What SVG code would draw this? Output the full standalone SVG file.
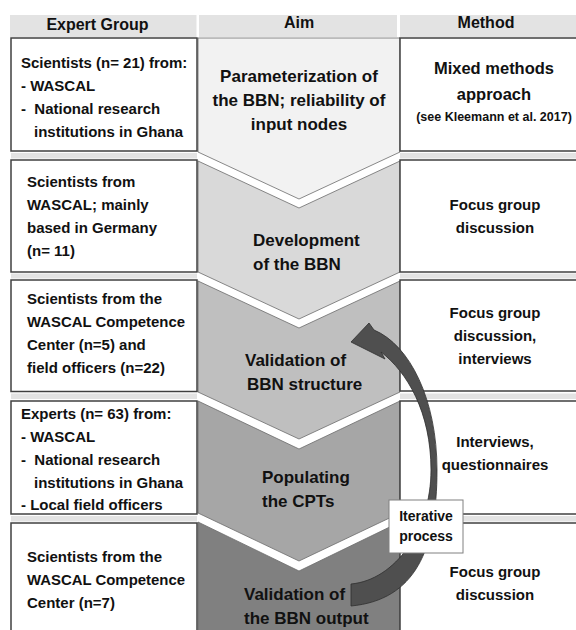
<svg xmlns="http://www.w3.org/2000/svg" width="576" height="630" viewBox="0 0 576 630">
<style>
text{font-family:"Liberation Sans",Arial,Helvetica,sans-serif;font-weight:bold;fill:#111}
.hdr{fill:#e3e3e3}
.hd{font-size:16px;text-anchor:middle}
.box{fill:#fff;stroke:#404040;stroke-width:1.5}
.band{fill:#e3e3e3}
.chev{stroke:#6b6b6b;stroke-width:0.8}
.l{font-size:15px}
.m{font-size:17px}
.mc{font-size:17px;text-anchor:middle}
.r{font-size:15px;text-anchor:middle}
.r1{font-size:16.5px;text-anchor:middle}
.lab{fill:#fff;stroke:#808080;stroke-width:1}
.lt{font-size:14px;text-anchor:middle}
.arrow{fill:#4f4f4f;stroke:#2f2f2f;stroke-width:0.8}
</style>
<rect width="576" height="630" fill="#fff"/>

<g id="header">
  <rect class="hdr" x="10" y="15" width="186.5" height="22"/>
  <rect class="hdr" x="199" y="15" width="198" height="22"/>
  <rect class="hdr" x="400" y="15" width="176" height="22"/>
  <text class="hd" x="97.5" y="29.5">Expert Group</text>
  <text class="hd" x="299" y="28">Aim</text>
  <text class="hd" x="486" y="28">Method</text>
</g>

<g id="bands">
  <rect class="band" x="11" y="153" width="186" height="5.5"/>
  <rect class="band" x="400" y="153" width="176" height="5.5"/>
  <rect class="band" x="11" y="273.5" width="186" height="5"/>
  <rect class="band" x="400" y="273.5" width="176" height="5"/>
  <rect class="band" x="11" y="393.5" width="186" height="5.5"/>
  <rect class="band" x="400" y="393.5" width="176" height="5.5"/>
  <rect class="band" x="11" y="516" width="186" height="5.5"/>
  <rect class="band" x="400" y="516" width="176" height="5.5"/>
</g>

<g id="aim1">
  <polygon class="chev" fill="#f2f2f2" points="198,38 400,38 400,152 299,199 198,152"/>
  <text class="mc" x="299" y="81.5">Parameterization of</text>
  <text class="mc" x="299" y="105.5">the BBN; reliability of</text>
  <text class="mc" x="299" y="129.5">input nodes</text>
</g>
<g id="aim2">
  <polygon class="chev" fill="#d9d9d9" points="198,161 299,208 400,161 400,272 299,319 198,272"/>
  <text class="m" x="253" y="245.5">Development</text>
  <text class="m" x="253" y="269.5">of the BBN</text>
</g>
<g id="aim3">
  <polygon class="chev" fill="#bfbfbf" points="198,281 299,328 400,281 400,392 299,439 198,392"/>
  <text class="m" x="245" y="366">Validation of</text>
  <text class="m" x="247" y="390">BBN structure</text>
</g>
<g id="aim4">
  <polygon class="chev" fill="#a6a6a6" points="198,401 299,449 400,401 400,513 299,561 198,513"/>
  <text class="m" x="262" y="482.5">Populating</text>
  <text class="m" x="262" y="506.5">the CPTs</text>
</g>
<g id="aim5">
  <polygon class="chev" fill="#808080" points="198,522 299,571 400,522 400,640 198,640"/>
  <text class="m" x="244" y="600">Validation of</text>
  <text class="m" x="244" y="624">the BBN output</text>
</g>

<g id="group1">
  <rect class="box" x="11" y="38" width="186" height="113"/>
  <text class="l" x="21" y="67.5">Scientists (n= 21) from:</text>
  <text class="l" x="21" y="90.5">- WASCAL</text>
  <text class="l" x="21" y="113.5" xml:space="preserve">-  National research</text>
  <text class="l" x="34" y="136.5">institutions in Ghana</text>
</g>
<g id="group2">
  <rect class="box" x="11" y="160" width="186" height="112"/>
  <text class="l" x="27" y="187">Scientists from</text>
  <text class="l" x="27" y="210">WASCAL; mainly</text>
  <text class="l" x="27" y="233">based in Germany</text>
  <text class="l" x="27" y="256">(n= 11)</text>
</g>
<g id="group3">
  <rect class="box" x="11" y="280" width="186" height="111.5"/>
  <text class="l" x="27" y="304">Scientists from the</text>
  <text class="l" x="27" y="327" textLength="158" lengthAdjust="spacingAndGlyphs">WASCAL Competence</text>
  <text class="l" x="27" y="350">Center (n=5) and</text>
  <text class="l" x="27" y="373">field officers (n=22)</text>
</g>
<g id="group4">
  <rect class="box" x="11" y="401" width="186" height="113"/>
  <text class="l" x="21" y="418.5">Experts (n= 63) from:</text>
  <text class="l" x="21" y="441.5">- WASCAL</text>
  <text class="l" x="21" y="464.5" xml:space="preserve">-  National research</text>
  <text class="l" x="34" y="487.5">institutions in Ghana</text>
  <text class="l" x="21" y="510">- Local field officers</text>
</g>
<g id="group5">
  <rect class="box" x="11" y="523" width="186" height="120"/>
  <text class="l" x="27" y="562">Scientists from the</text>
  <text class="l" x="27" y="585" textLength="158" lengthAdjust="spacingAndGlyphs">WASCAL Competence</text>
  <text class="l" x="27" y="608">Center (n=7)</text>
</g>

<g id="method1">
  <rect class="box" x="400" y="38" width="190" height="113"/>
  <text class="r1" x="494" y="74">Mixed methods</text>
  <text class="r1" x="494" y="99.5">approach</text>
  <text x="494" y="120.5" font-size="12.5" text-anchor="middle">(see Kleemann et al. 2017)</text>
</g>
<g id="method2">
  <rect class="box" x="400" y="160" width="190" height="112"/>
  <text class="r" x="495" y="210">Focus group</text>
  <text class="r" x="495" y="233">discussion</text>
</g>
<g id="method3">
  <rect class="box" x="400" y="280" width="190" height="111"/>
  <text class="r" x="495" y="318">Focus group</text>
  <text class="r" x="495" y="341">discussion,</text>
  <text class="r" x="495" y="364">interviews</text>
</g>
<g id="method4">
  <rect class="box" x="400" y="401" width="190" height="113"/>
  <text class="r" x="495" y="447">Interviews,</text>
  <text class="r" x="495" y="470">questionnaires</text>
</g>
<g id="method5">
  <rect class="box" x="400" y="523" width="190" height="120"/>
  <text class="r" x="495" y="577">Focus group</text>
  <text class="r" x="495" y="600">discussion</text>
</g>

<g id="connectors">
  <path class="arrow" d="M374,330 C410,345 437,400 437,470 C437,550 415,600 351,606 L351,584 C395,580 431,530 431,470 C431,412 407,372 381,352 L385,359 L351,342 L369,323 Z"/>
</g>

<g id="label-iterative">
  <rect class="lab" x="389" y="500" width="74" height="53"/>
  <text class="lt" x="426" y="520.5">Iterative</text>
  <text class="lt" x="426" y="540.5">process</text>
</g>
</svg>
